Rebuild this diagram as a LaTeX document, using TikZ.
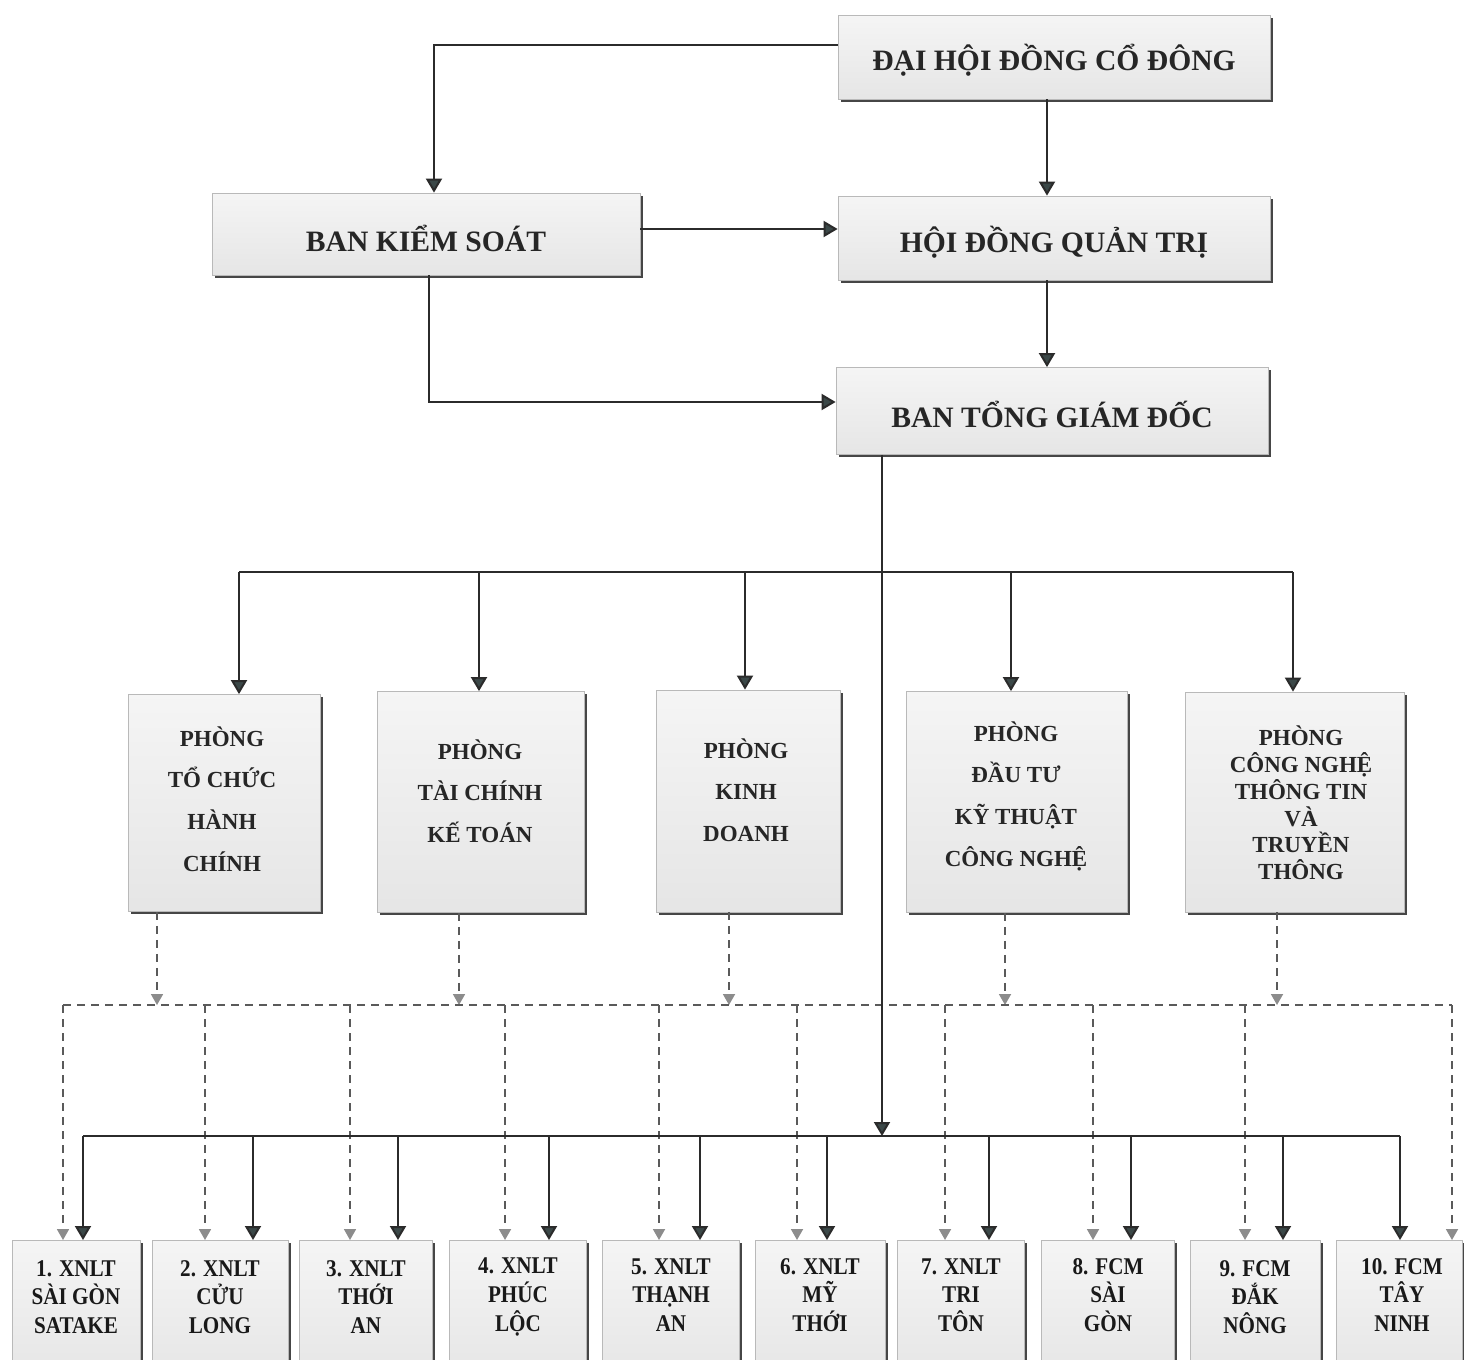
\documentclass[tikz,border=0pt]{standalone}
\usepackage{fontspec}
\setmainfont{Liberation Serif}
\newfontfamily\condfont[FakeStretch=0.88]{Liberation Serif}
\usetikzlibrary{arrows.meta,shadows}
\definecolor{linec}{HTML}{2B2B2B}
\definecolor{tipc}{HTML}{3B4848}
\definecolor{dashc}{HTML}{5A5A5A}
\definecolor{dtipc}{HTML}{8C8C8C}
\tikzset{
  box/.style={draw=gray!55, line width=0.4pt, top color=gray!8, bottom color=gray!20,
    drop shadow={shadow xshift=1.3pt, shadow yshift=-1.3pt, fill=gray!55!black, opacity=1},
    inner sep=0pt, rectangle},
  toptext/.style={font=\bfseries\fontsize{14.8}{18}\selectfont, text=black!85},
  deptext/.style={font=\bfseries\fontsize{11.5}{20.8}\selectfont, align=center, text=black!85},
  botext/.style={font=\condfont\bfseries\fontsize{12}{14.3}\selectfont, align=center, text=black!90},
  solidarr/.style={draw=linec, line width=1pt, -{Triangle[width=8pt,length=7pt,fill=tipc]}},
  solidln/.style={draw=linec, line width=1pt},
  dashln/.style={draw=dashc, line width=0.9pt, dash pattern=on 4pt off 3pt},
  dasharr/.style={dashln, -{Triangle[width=6pt,length=5.5pt,fill=dtipc,color=dtipc]}},
}
\begin{document}
\begin{tikzpicture}[x=0.5pt,y=-0.5pt]
\useasboundingbox[fill=white] (0,0) rectangle (1464,1360);

% top boxes
\node[box, minimum width=216pt, minimum height=42pt] (dh) at (1054,57) {};
\node[toptext] (dht) at (1054,60) {ĐẠI HỘI ĐỒNG CỔ ĐÔNG};
\node[box, minimum width=214pt, minimum height=41pt] (bks) at (426,234) {};
\node[toptext] (bkst) at (426,238) {BAN KIỂM SOÁT};
\node[box, minimum width=216pt, minimum height=42pt] (hd) at (1054,238) {};
\node[toptext] (hdt) at (1054,242) {HỘI ĐỒNG QUẢN TRỊ};
\node[box, minimum width=216pt, minimum height=43.5pt] (tg) at (1052,411) {};
\node[toptext] (tgt) at (1052,414) {BAN TỔNG GIÁM ĐỐC};

% coordinates
\coordinate (k1) at (434,45);
\coordinate (k2) at (0,229);
\coordinate (k3) at (1047,0);
\coordinate (k4) at (429,402);
\coordinate (k5) at (882,1136);

\draw[solidarr] (dh.west |- k1) -- (k1) -- (k1 |- bks.north);
\draw[solidarr] (bks.east |- k2) -- (hd.west |- k2);
\draw[solidarr] (k3 |- dh.south) -- (k3 |- hd.north);
\draw[solidarr] (k3 |- hd.south) -- (k3 |- tg.north);
\draw[solidarr] (k4 |- bks.south) -- (k4) -- (k4 -| tg.west);

% department boxes
\node[box, minimum width=96pt, minimum height=108.5pt] (d1) at (224,803) {};
\node[box, minimum width=103.5pt, minimum height=110.5pt] (d2) at (481,802) {};
\node[box, minimum width=92pt, minimum height=111pt] (d3) at (748,801) {};
\node[box, minimum width=110.5pt, minimum height=110.5pt] (d4) at (1017,802) {};
\node[box, minimum width=109.5pt, minimum height=110pt] (d5) at (1295,802) {};
\node[deptext] (d1t) at (222,799) {PHÒNG\\TỔ CHỨC\\HÀNH\\CHÍNH};
\node[deptext] (d2t) at (480,791) {PHÒNG\\TÀI CHÍNH\\KẾ TOÁN};
\node[deptext] (d3t) at (746,790) {PHÒNG\\KINH\\DOANH};
\node[deptext] (d4t) at (1016,796) {PHÒNG\\ĐẦU TƯ\\KỸ THUẬT\\CÔNG NGHỆ};
\node[deptext, font=\bfseries\fontsize{11.5}{13.4}\selectfont] (d5t) at (1301,803) {PHÒNG\\CÔNG NGHỆ\\THÔNG TIN\\VÀ\\TRUYỀN\\THÔNG};

% bus to departments
\coordinate (u1) at (239,572);
\coordinate (u2) at (479,572);
\coordinate (u3) at (745,572);
\coordinate (u4) at (1011,572);
\coordinate (u5) at (1293,572);
\draw[solidln] (u1) -- (u5);
\foreach \i in {1,...,5} {\draw[solidarr] (u\i) -- (u\i |- d\i.north);}

% bottom boxes
\foreach \n/\cx/\w in {1/76/64, 2/220/68, 3/366/66.5, 4/518/68.5, 5/671/68.5, 6/820/65, 7/961/63.5, 8/1108/66.5, 9/1255/65, 10/1399/63}{
  \node[box, minimum width=\w pt, minimum height=70pt, anchor=north] (b\n) at (\cx,1240) {};
}
\node[botext] (b1t) at (76,1297) {1. XNLT\\SÀI GÒN\\SATAKE};
\node[botext] (b2t) at (220,1297) {2. XNLT\\CỬU\\LONG};
\node[botext] (b3t) at (366,1297) {3. XNLT\\THỚI\\AN};
\node[botext] (b4t) at (518,1297) {4. XNLT\\PHÚC\\LỘC};
\node[botext] (b5t) at (671,1295) {5. XNLT\\THẠNH\\AN};
\node[botext] (b6t) at (820,1295) {6. XNLT\\MỸ\\THỚI};
\node[botext] (b7t) at (961,1295) {7. XNLT\\TRI\\TÔN};
\node[botext] (b8t) at (1108,1295) {8. FCM\\SÀI\\GÒN};
\node[botext] (b9t) at (1255,1297) {9. FCM\\ĐẮK\\NÔNG};
\node[botext] (b10t) at (1402,1295) {10. FCM\\TÂY\\NINH};

% dashed lines from departments
\foreach \i/\dx in {1/157, 2/459, 3/729, 4/1005, 5/1277}{
  \coordinate (e\i) at (\dx,1005);
  \draw[dasharr] (e\i |- d\i.south) -- (e\i);
}
\coordinate (dl) at (63,1005);
\coordinate (dr) at (1452,1005);
\draw[dashln] (dl) -- (dr);
\foreach \n/\dx in {1/63, 2/205, 3/350, 4/505, 5/659, 6/797, 7/945, 8/1093, 9/1245, 10/1452}{
  \coordinate (f\n) at (\dx,1005);
  \draw[dasharr] (f\n) -- (f\n |- b\n.north);
}

% solid bus to branches
\draw[solidarr] (k5 |- tg.south) -- (k5);
\coordinate (sl) at (83,1136);
\coordinate (sr) at (1400,1136);
\draw[solidln] (sl) -- (sr);
\foreach \n/\sx in {1/83, 2/253, 3/398, 4/549, 5/700, 6/827, 7/989, 8/1131, 9/1283, 10/1400}{
  \coordinate (g\n) at (\sx,1136);
  \draw[solidarr] (g\n) -- (g\n |- b\n.north);
}
\end{tikzpicture}
\end{document}
